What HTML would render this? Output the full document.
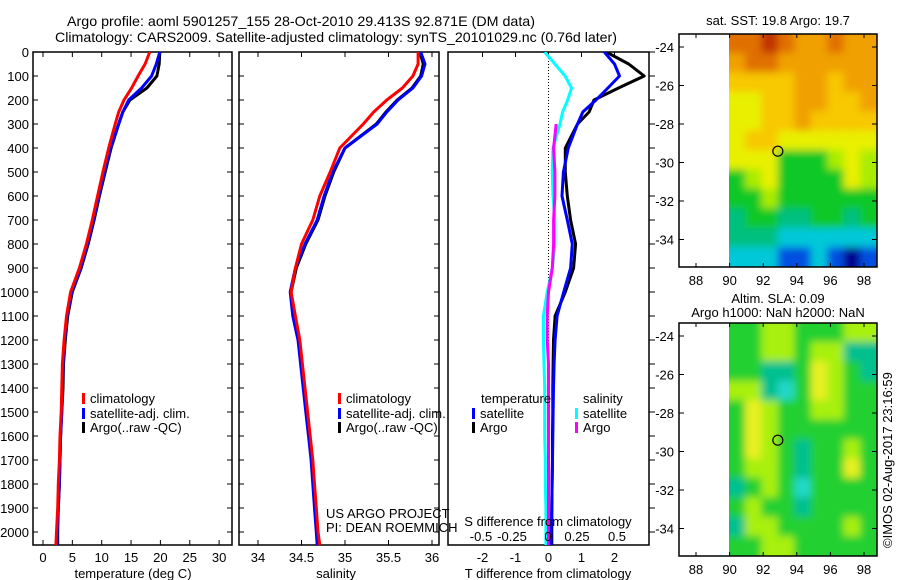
<!DOCTYPE html>
<html><head><meta charset="utf-8">
<style>
html,body{margin:0;padding:0;background:#fff;}
svg{display:block;font-family:"Liberation Sans",Arial,sans-serif;}
text{fill:#000;}
</style></head>
<body>
<svg id="chart" width="900" height="580" viewBox="0 0 900 580" xmlns="http://www.w3.org/2000/svg">
<defs>
<clipPath id="c1"><rect x="33" y="52" width="199" height="493"/></clipPath>
<clipPath id="c2"><rect x="239" y="52" width="200" height="493"/></clipPath>
<clipPath id="c3"><rect x="448" y="52" width="201" height="493"/></clipPath>
<clipPath id="m1c"><rect x="729" y="34" width="148" height="233"/></clipPath>
<clipPath id="m2c"><rect x="729" y="323" width="148" height="233"/></clipPath>
<filter id="bl" filterUnits="userSpaceOnUse" x="690" y="0" width="210" height="580"><feGaussianBlur stdDeviation="4"/></filter>
</defs>
<text x="67" y="26" font-size="14" textLength="468" lengthAdjust="spacingAndGlyphs">Argo profile: aoml 5901257_155 28-Oct-2010 29.413S 92.871E (DM data)</text>
<text x="55" y="42" font-size="14" textLength="562" lengthAdjust="spacingAndGlyphs">Climatology: CARS2009. Satellite-adjusted climatology: synTS_20101029.nc (0.76d later)</text>
<g id="g1"></g>
<g id="g2"></g>
<g id="g3"></g>
<g id="g4"></g>
<g id="g5"></g>
<text transform="translate(892,548) rotate(-90)" font-size="13">©IMOS 02-Aug-2017 23:16:59</text>
</svg>
<script>
// ---------- data ----------
const depths = [0,50,100,150,200,250,300,400,500,600,700,800,900,1000,1100,1200,1300,1400,1500,1600,1700,1800,1900,2000,2054];
const tempClim = [18.2,17.4,16.2,15.1,13.8,12.9,12.3,11.2,10.2,9.3,8.4,7.4,6.2,4.7,4.0,3.6,3.3,3.2,3.1,2.9,2.8,2.6,2.5,2.3,2.2];
const tempSat  = [19.9,19.3,18.5,16.8,14.6,13.6,12.9,11.5,10.5,9.5,8.6,7.6,6.4,4.9,4.1,3.7,3.4,3.3,3.2,3.0,2.9,2.8,2.6,2.4,2.4];
const tempArgo = [19.9,19.8,19.4,17.7,14.8,13.6,12.9,11.6,10.6,9.6,8.7,7.7,6.5,5.0,4.2,3.8,3.5,3.4,3.2,3.0,2.9,2.8,2.6,2.5,2.5];
const salClim = [35.84,35.84,35.78,35.66,35.48,35.33,35.21,34.94,34.83,34.71,34.63,34.50,34.43,34.38,34.43,34.48,34.51,34.54,34.57,34.60,34.63,34.65,34.67,34.69,34.71];
const salSat  = [35.87,35.92,35.88,35.78,35.61,35.48,35.37,35.00,34.86,34.76,34.68,34.54,34.43,34.37,34.40,34.46,34.49,34.52,34.55,34.58,34.61,34.63,34.65,34.67,34.68];
const salArgo = [35.86,35.90,35.87,35.77,35.60,35.47,35.36,35.00,34.87,34.77,34.69,34.55,34.44,34.38,34.41,34.47,34.50,34.53,34.56,34.59,34.62,34.64,34.66,34.68,34.69];
const tDiffSat  = [1.69,2.0,2.15,1.8,1.44,1.04,0.88,0.6,0.45,0.41,0.57,0.72,0.67,0.46,0.26,0.2,0.17,0.15,0.14,0.13,0.12,0.11,0.1,0.08,0.08];
const tDiffArgo = [1.75,2.43,2.9,2.12,1.38,1.23,0.88,0.51,0.51,0.57,0.67,0.82,0.76,0.51,0.2,0.15,0.14,0.13,0.13,0.12,0.12,0.11,0.1,0.1,0.1];
const sDiffSat  = [-0.03,0.05,0.13,0.18,0.15,0.11,0.09,0.035,0.03,0.035,0.05,0.05,0.03,-0.01,-0.04,-0.04,-0.035,-0.03,-0.03,-0.03,-0.025,-0.025,-0.02,-0.02,-0.02];
const sDiffArgo = [null,null,null,null,null,null,0.06,0.04,0.05,0.05,0.04,0.04,0.03,0.0,-0.01,-0.01,0.0,0.0,0.0,0.0,0.0,0.0,0.0,0.0,0.0];
const depthTicks = [0,100,200,300,400,500,600,700,800,900,1000,1100,1200,1300,1400,1500,1600,1700,1800,1900,2000];
const tempTicks = [0,5,10,15,20,25,30];
const salTicks = [34,34.5,35,35.5,36];
const tdTicks = [-2,-1,0,1,2];
const sdTicks = ["-0.5","-0.25","0","0.25","0.5"];
const lonTicks = [88,90,92,94,96,98];
const latTicks = [-24,-26,-28,-30,-32,-34];
const sstGrid = [
[9,9,10,9,8,8,9,8,8],
[8,9,9,8,8,8,8,8,8],
[7,7,7,7,8,8,7,8,8],
[6,6,7,7,8,8,7,7,8],
[6,6,7,7,8,7,7,7,7],
[6,7,7,6,6,6,6,6,6],
[6,6,6,4,4,4,5,6,5],
[4,5,6,4,4,4,4,6,5],
[4,4,5,4,4,4,4,4,4],
[3,4,4,3,3,4,4,3,4],
[3,3,3,2,2,2,2,2,2],
[2,2,2,1,1,2,1,0,1]];
const slaGrid = [
[4,4,5,5,4,4,4,5,5],
[4,4,5,5,4,5,5,3,3],
[4,4,3,3,4,6,5,4,3],
[5,5,3,2,4,6,5,4,4],
[4,6,5,4,4,5,5,4,4],
[4,6,5,4,4,4,4,4,4],
[4,6,5,4,3,4,4,5,4],
[4,5,5,4,3,4,4,6,4],
[3,4,5,4,2,4,4,4,4],
[4,5,4,4,3,4,4,4,4],
[3,5,5,4,4,4,4,5,4],
[4,4,5,5,4,4,4,4,4]];
const argoLon = 92.871, argoLat = -29.413;

// ---------- helpers ----------
const NS="http://www.w3.org/2000/svg";
function mk(tag, parent, attrs){const e=document.createElementNS(NS,tag);for(const k in attrs)e.setAttribute(k,attrs[k]);parent.appendChild(e);return e;}
const yD = d => 52 + d*0.24;
const xT = t => 43 + t*5.87;
const xS = s => 258 + (s-34)*87;
const xTD = v => 548.5 + v*33;
const xSD = v => 548.5 + v*128;
const xSDlab = i => [481,512,548,577,617][i];
function line(g, xs, vals, fx, color, w, name){
  let pts=[];
  vals.forEach((v,i)=>{ if(v!==null) pts.push(fx(v).toFixed(1)+","+yD(depths[i]).toFixed(1)); });
  const p=mk('polyline',g,{points:pts.join(' '),fill:'none',stroke:color,'stroke-width':w,'stroke-linejoin':'round'});
  
  
}
function frame(g,x,w,name){
  const r=mk('rect',g,{x:x,y:52,width:w,height:493,fill:'none',stroke:'#000','stroke-width':1.5});
  
  
}
function txt(g,x,y,s,anchor,size,name){
  const t=mk('text',g,{x:x,y:y,'font-size':size||13,'text-anchor':anchor||'start'});t.textContent=s;
  
  
  return t;
}
function legend(g,x,y,color,label,name){
  const r=mk('rect',g,{x:x,y:y-10,width:3,height:11,fill:color});
  
  
  txt(g,x+8,y,label,'start',13,name+'-label');
}

// ---------- panel 1 ----------
const g1=document.getElementById('g1');
frame(g1,33,199,'temperature-frame');
depthTicks.forEach(d=>{mk('line',g1,{x1:33,x2:38,y1:yD(d),y2:yD(d),stroke:'#000'});mk('line',g1,{x1:227,x2:232,y1:yD(d),y2:yD(d),stroke:'#000'});txt(g1,29,yD(d)+5,String(d),'end',13,'depth-tick-label');});
tempTicks.forEach(t=>{mk('line',g1,{x1:xT(t),x2:xT(t),y1:545,y2:540,stroke:'#000'});mk('line',g1,{x1:xT(t),x2:xT(t),y1:52,y2:57,stroke:'#000'});txt(g1,xT(t),562,String(t),'middle',13,'temp-tick-label');});
txt(g1,133,578,'temperature (deg C)','middle',13,'temp-axis-title');
const c1=mk('g',g1,{'clip-path':'url(#c1)'});
line(c1,depths,tempArgo,xT,'#000',3,'temp-argo-line');
line(c1,depths,tempSat,xT,'#0000ff',3,'temp-satellite-line');
line(c1,depths,tempClim,xT,'#ff0000',3,'temp-climatology-line');
legend(g1,82,403,'#ff0000','climatology','legend-climatology');
legend(g1,82,418,'#0000ff','satellite-adj. clim.','legend-satellite');
legend(g1,82,432,'#000','Argo(..raw -QC)','legend-argo');

// ---------- panel 2 ----------
const g2=document.getElementById('g2');
frame(g2,239,200,'salinity-frame');
depthTicks.forEach(d=>{mk('line',g2,{x1:239,x2:244,y1:yD(d),y2:yD(d),stroke:'#000'});mk('line',g2,{x1:434,x2:439,y1:yD(d),y2:yD(d),stroke:'#000'});});
salTicks.forEach(s=>{mk('line',g2,{x1:xS(s),x2:xS(s),y1:545,y2:540,stroke:'#000'});mk('line',g2,{x1:xS(s),x2:xS(s),y1:52,y2:57,stroke:'#000'});txt(g2,xS(s),562,String(s),'middle',13,'sal-tick-label');});
txt(g2,336,578,'salinity','middle',13,'sal-axis-title');
const c2=mk('g',g2,{'clip-path':'url(#c2)'});
line(c2,depths,salArgo,xS,'#000',3,'sal-argo-line');
line(c2,depths,salSat,xS,'#0000ff',3,'sal-satellite-line');
line(c2,depths,salClim,xS,'#ff0000',3,'sal-climatology-line');
legend(g2,338,403,'#ff0000','climatology','legend-climatology');
legend(g2,338,418,'#0000ff','satellite-adj. clim.','legend-satellite');
legend(g2,338,432,'#000','Argo(..raw -QC)','legend-argo');
txt(g2,326,518,'US ARGO PROJECT','start',13,'project-label');
txt(g2,326,532,'PI: DEAN ROEMMICH','start',13,'pi-label');

// ---------- panel 3 ----------
const g3=document.getElementById('g3');
frame(g3,448,201,'difference-frame');
depthTicks.forEach(d=>{mk('line',g3,{x1:649,x2:655,y1:yD(d),y2:yD(d),stroke:'#000'});});
tdTicks.forEach(t=>{mk('line',g3,{x1:xTD(t),x2:xTD(t),y1:52,y2:57,stroke:'#000'});txt(g3,xTD(t),562,String(t),'middle',13,'tdiff-tick-label');});
mk('line',g3,{x1:548.5,x2:548.5,y1:52,y2:545,stroke:'#000','stroke-dasharray':'1,2'});
const c3=mk('g',g3,{'clip-path':'url(#c3)'});
line(c3,depths,sDiffSat,xSD,'#00ffff',3,'sdiff-satellite-line');
line(c3,depths,sDiffArgo,xSD,'#ff00ff',3,'sdiff-argo-line');
line(c3,depths,tDiffArgo,xTD,'#000',3,'tdiff-argo-line');
line(c3,depths,tDiffSat,xTD,'#0000ff',3,'tdiff-satellite-line');
txt(g3,481,403,'temperature','start',13,'legend-temperature-heading');
legend(g3,472,418,'#0000ff','satellite','legend-t-satellite');
legend(g3,472,432,'#000','Argo','legend-t-argo');
txt(g3,583,403,'salinity','start',13,'legend-salinity-heading');
legend(g3,575,418,'#00ffff','satellite','legend-s-satellite');
legend(g3,575,432,'#ff00ff','Argo','legend-s-argo');
txt(g3,548,526,'S difference from climatology','middle',13,'sdiff-axis-title');
sdTicks.forEach((s,i)=>txt(g3,xSDlab(i),541,s,'middle',13,'sdiff-tick-label'));
txt(g3,548,578,'T difference from climatology','middle',13,'tdiff-axis-title');

// ---------- maps ----------
const sstCols=['#00008f','#0050e0','#00c8d8','#00c080','#10c828','#a8ec00','#e8f000','#f8c800','#f0a000','#e07000','#c03000'];
const slaCols=['#00008f','#0050e0','#20d8c8','#00c090','#20d030','#a8f010','#e8f020','#f8c800','#f0a000','#e07000','#c03000'];
function map(g,top,grid,cols,clip,title1,title2,latTop,name){
  const box={x:679,y:top,w:198,h:233};
  const xL = lon => 696 + (lon-88)*16.8;
  const yL = lat => latTop + (-24-lat)*19.25;
  const cg=mk('g',g,{'clip-path':'url(#'+clip+')'});
  const fg=mk('g',cg,{filter:'url(#bl)'});
  const rows=grid.length, ncol=grid[0].length;
  const cw=148/ncol, ch=233/rows, pad=12;
  grid.forEach((row,r)=>row.forEach((v,c)=>{
    let x0=729+c*cw-0.5, y0=top+r*ch-0.5, w=cw+1, h=ch+1;
    if(c===0){x0-=pad;w+=pad;} if(c===ncol-1){w+=pad;}
    if(r===0){y0-=pad;h+=pad;} if(r===rows-1){h+=pad;}
    const rc=mk('rect',fg,{x:x0.toFixed(1),y:y0.toFixed(1),width:w.toFixed(1),height:h.toFixed(1),fill:cols[v]});
    
    
  }));
  const fr=mk('rect',g,{x:box.x,y:box.y,width:box.w,height:box.h,fill:'none',stroke:'#000','stroke-width':1.5});
  
  
  lonTicks.forEach(l=>{mk('line',g,{x1:xL(l),x2:xL(l),y1:top+box.h,y2:top+box.h-4,stroke:'#000'});mk('line',g,{x1:xL(l),x2:xL(l),y1:top,y2:top+4,stroke:'#000'});txt(g,xL(l),top+box.h+18,String(l),'middle',13,name+'-lon-label');});
  latTicks.forEach(l=>{mk('line',g,{x1:679,x2:684,y1:yL(l),y2:yL(l),stroke:'#000'});mk('line',g,{x1:872,x2:877,y1:yL(l),y2:yL(l),stroke:'#000'});txt(g,674,yL(l)+5,String(l),'end',13,name+'-lat-label');});
  const ci=mk('circle',g,{cx:xL(argoLon),cy:yL(argoLat),r:5,fill:'none',stroke:'#000','stroke-width':1.2});
  
  
  if(title2){txt(g,778,top-20,title1,'middle',13,name+'-title');txt(g,778,top-6,title2,'middle',13,name+'-subtitle');}
  else txt(g,778,top-9,title1,'middle',13,name+'-title');
}
map(document.getElementById('g4'),34,sstGrid,sstCols,'m1c','sat. SST: 19.8 Argo: 19.7',null,47,'sst-map');
map(document.getElementById('g5'),323,slaGrid,slaCols,'m2c','Altim. SLA: 0.09','Argo h1000: NaN h2000: NaN',336,'sla-map');
</script>
</body></html>
